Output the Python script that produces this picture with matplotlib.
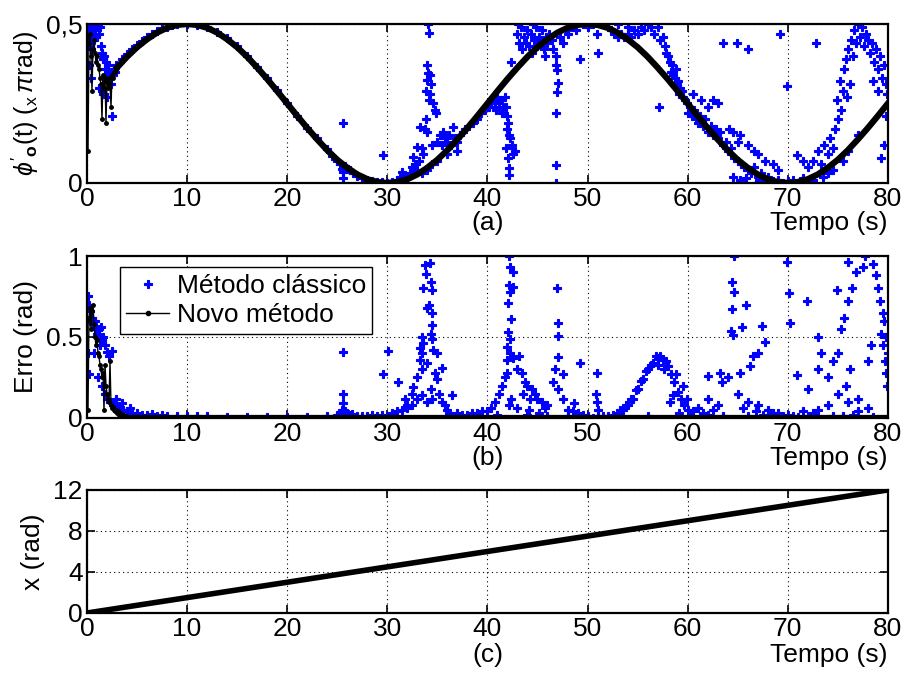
import matplotlib
matplotlib.use('Agg')
import matplotlib.pyplot as plt
import numpy as np

plt.rcParams['font.family'] = ['Liberation Sans', 'DejaVu Sans']
plt.rcParams['font.size'] = 19
plt.rcParams['mathtext.fontset'] = 'custom'
plt.rcParams['mathtext.rm'] = 'Liberation Sans'
plt.rcParams['mathtext.it'] = 'Liberation Sans:italic'
plt.rcParams['mathtext.bf'] = 'Liberation Sans:bold'

# ---- data ----
time_ticks = [0, 10, 20, 30, 40, 50, 60, 70, 80]

# (a) new method: noisy start, then the smooth reference curve (x pi rad)
novo_a_t0 = [0.0, 0.1, 0.2, 0.3, 0.4, 0.5, 0.6, 0.7, 0.8, 0.9, 1.0, 1.1, 1.2, 1.3, 1.4,
             1.5, 1.6, 1.7, 1.8, 1.9, 2.0, 2.1, 2.2, 2.3, 2.4, 2.5, 2.6, 2.7, 2.8, 2.9, 3.0]
novo_a_y0 = [0.46, 0.10, 0.44, 0.47, 0.40, 0.29, 0.42, 0.45, 0.41, 0.38, 0.40, 0.37, 0.36, 0.33, 0.31,
             0.20, 0.34, 0.30, 0.33, 0.19, 0.32, 0.30, 0.33, 0.31, 0.24, 0.34, 0.33, 0.35, 0.35, 0.36, 0.363]
novo_a_t = list(range(3, 81))
novo_a_y = [0.363, 0.397, 0.427, 0.452, 0.473, 0.488, 0.497, 0.500, 0.497, 0.488,
            0.473, 0.452, 0.427, 0.397, 0.363, 0.327, 0.289, 0.250, 0.211, 0.173,
            0.137, 0.103, 0.073, 0.048, 0.027, 0.012, 0.003, 0.000, 0.003, 0.012,
            0.027, 0.048, 0.073, 0.103, 0.137, 0.173, 0.211, 0.250, 0.289, 0.327,
            0.363, 0.397, 0.427, 0.452, 0.473, 0.488, 0.497, 0.500, 0.497, 0.488,
            0.473, 0.452, 0.427, 0.397, 0.363, 0.327, 0.289, 0.250, 0.211, 0.173,
            0.137, 0.103, 0.073, 0.048, 0.027, 0.012, 0.003, 0.000, 0.003, 0.012,
            0.027, 0.048, 0.073, 0.103, 0.137, 0.173, 0.211, 0.250]

# (a) classic method points (t, phase)
classic_a = [
    (0.05, 0.47), (0.1, 0.50), (0.15, 0.44), (0.2, 0.48), (0.3, 0.46), (0.35, 0.49), (0.4, 0.42),
    (0.5, 0.47), (0.6, 0.50), (0.7, 0.45), (0.8, 0.48), (0.9, 0.46), (1.0, 0.49), (1.1, 0.50),
    (1.2, 0.47), (1.3, 0.49), (1.4, 0.43), (1.5, 0.41), (1.6, 0.39), (1.7, 0.40), (1.8, 0.36),
    (1.9, 0.38), (2.0, 0.34), (2.1, 0.37), (2.2, 0.33), (2.3, 0.35), (2.4, 0.31), (2.5, 0.21),
    (2.6, 0.34), (2.7, 0.36), (2.8, 0.35), (2.9, 0.37), (0.2, 0.37), (0.4, 0.33), (1.2, 0.30),
    (1.6, 0.28), (2.0, 0.27),
    (3.5, 0.39), (4, 0.405), (4.5, 0.42), (5, 0.435), (5.5, 0.445), (6, 0.46), (6.5, 0.47),
    (7, 0.478), (7.5, 0.486), (8, 0.492), (8.5, 0.496), (9, 0.499), (10, 0.5), (11, 0.498),
    (12, 0.49), (13, 0.475), (14, 0.455), (15, 0.43), (16, 0.40), (17, 0.366), (18, 0.33),
    (19, 0.292), (20, 0.252), (21, 0.212), (22, 0.174), (23, 0.14), (24, 0.108),
    (24.5, 0.085), (25, 0.07), (25.3, 0.06), (25.5, 0.045), (25.6, 0.035), (25.6, 0.015),
    (25.6, 0.19), (25.8, 0.055), (26, 0.045), (26.3, 0.04), (26.6, 0.03), (27, 0.022),
    (27.5, 0.015), (28, 0.008), (28.5, 0.006), (29, 0.003), (29.5, 0.002), (29.6, 0.088),
    (30, 0.0), (30.5, 0.004), (31, 0.01), (31.0, 0.005), (31.3, 0.02), (31.5, 0.035),
    (31.7, 0.02), (32, 0.015), (32.3, 0.03), (32.5, 0.05), (32.6, 0.083), (32.8, 0.06),
    (33.0, 0.114), (33.0, 0.04), (33.2, 0.07), (33.3, 0.175), (33.5, 0.11), (33.6, 0.09),
    (33.8, 0.17), (33.9, 0.20), (33.9, 0.29), (34.0, 0.16), (34.0, 0.324), (34.0, 0.371),
    (34.1, 0.50), (34.2, 0.473), (34.2, 0.26), (34.1, 0.347), (34.3, 0.34), (34.3, 0.28),
    (34.4, 0.31), (34.6, 0.25), (34.8, 0.23), (34.9, 0.22), (34.5, 0.12), (35.0, 0.13),
    (35.3, 0.15), (35.5, 0.12), (35.6, 0.16), (35.8, 0.14), (36.0, 0.13), (36.2, 0.15),
    (36.6, 0.177), (36.4, 0.12), (36.8, 0.14), (37.0, 0.13), (37.3, 0.15), (37.6, 0.16),
    (37.0, 0.10), (36.0, 0.09), (35.0, 0.07), (34.5, 0.06), (34.0, 0.04), (33.5, 0.03),
    (37.8, 0.17), (38.2, 0.18), (38.6, 0.19), (39.0, 0.20), (39.4, 0.22), (39.8, 0.23),
    (40.2, 0.24), (40.4, 0.25), (40.6, 0.26), (40.8, 0.24), (41.0, 0.27), (41.2, 0.25),
    (41.4, 0.26), (41.6, 0.24), (41.8, 0.27), (40.9, 0.23), (41.5, 0.22), (41.9, 0.24),
    (42.0, 0.21), (42.1, 0.19), (42.0, 0.17), (42.2, 0.15), (42.3, 0.14), (41.9, 0.11),
    (42.8, 0.10), (42.1, 0.08), (42.2, 0.048), (42.2, 0.025), (42.4, 0.38), (42.5, 0.12),
    (42.6, 0.09),
    (43.0, 0.47), (43.2, 0.44), (43.4, 0.49), (43.5, 0.42), (43.7, 0.46), (43.9, 0.44),
    (44.0, 0.48), (44.2, 0.43), (44.4, 0.47), (44.5, 0.41), (44.7, 0.45), (44.9, 0.49),
    (45.0, 0.43), (45.2, 0.46), (45.4, 0.44), (45.5, 0.48), (45.7, 0.42), (45.9, 0.46),
    (46.0, 0.44), (46.2, 0.47), (46.4, 0.45), (43.1, 0.50), (44.6, 0.50), (45.8, 0.40),
    (46.5, 0.42), (46.8, 0.40), (46.8, 0.371), (46.9, 0.355), (47.0, 0.315), (46.9, 0.286),
    (46.8, 0.22), (46.8, 0.057), (46.8, 0.0), (47.2, 0.46), (47.5, 0.44), (47.8, 0.48),
    (48.0, 0.47), (48.4, 0.49), (48.8, 0.48), (49.2, 0.39), (49.5, 0.50), (50.0, 0.49),
    (50.5, 0.50), (50.9, 0.47), (51.0, 0.41),
    (51.5, 0.50), (52.0, 0.49), (52.3, 0.48), (52.6, 0.47), (53.0, 0.46), (53.3, 0.47),
    (53.6, 0.46), (54.0, 0.47), (54.3, 0.46), (54.6, 0.48), (55.0, 0.47), (55.3, 0.49),
    (55.6, 0.48), (56.0, 0.50), (56.3, 0.49), (56.6, 0.47), (57.0, 0.49), (57.2, 0.45),
    (57.5, 0.46), (57.7, 0.43), (57.8, 0.41), (58.0, 0.40), (58.2, 0.38), (58.4, 0.37),
    (58.5, 0.34), (58.7, 0.33), (58.9, 0.31), (59.0, 0.32), (59.2, 0.30), (59.4, 0.29),
    (59.5, 0.27), (59.7, 0.26), (59.9, 0.25), (58.3, 0.35), (58.8, 0.36), (59.1, 0.28),
    (57.1, 0.24), (54.0, 0.49), (53.0, 0.50),
    (60.0, 0.22), (60.2, 0.24), (60.4, 0.21), (60.6, 0.23), (60.8, 0.20), (61.0, 0.19),
    (61.2, 0.21), (61.5, 0.18), (61.7, 0.20), (62.0, 0.16), (62.3, 0.18), (62.5, 0.15),
    (62.8, 0.17), (63.0, 0.14), (63.2, 0.16), (63.5, 0.12), (63.8, 0.13), (64.0, 0.10),
    (64.3, 0.11), (64.6, 0.08), (65.0, 0.07), (65.3, 0.06), (65.6, 0.05), (66.0, 0.04),
    (66.3, 0.03), (66.6, 0.05), (67.0, 0.02), (67.3, 0.03), (67.6, 0.01), (68.0, 0.02),
    (68.5, 0.005), (69.0, 0.01), (69.5, 0.0), (70.0, 0.005), (70.5, 0.01), (71.0, 0.0),
    (71.5, 0.015), (72.0, 0.005), (64.5, 0.02), (65.2, 0.01), (65.8, 0.015), (66.8, 0.0),
    (62.5, 0.26), (63.0, 0.25), (63.5, 0.44), (64.9, 0.44), (66.0, 0.42), (64.1, 0.17),
    (64.5, 0.16), (65.2, 0.15), (65.0, 0.13), (66.0, 0.12), (66.6, 0.10), (67.0, 0.09),
    (67.7, 0.07), (68.5, 0.06), (69.0, 0.04), (69.2, 0.47), (69.9, 0.305), (72.8, 0.44),
    (60.5, 0.28), (61.3, 0.26), (62.0, 0.24),
    (70.9, 0.088), (71.5, 0.07), (72.0, 0.05), (72.5, 0.07), (73.0, 0.10), (73.3, 0.06),
    (73.6, 0.12), (74.0, 0.09), (74.2, 0.14), (74.5, 0.11), (74.7, 0.17), (74.9, 0.26),
    (75.0, 0.20), (75.2, 0.32), (75.3, 0.23), (75.5, 0.29), (75.6, 0.36), (75.8, 0.39),
    (75.9, 0.27), (76.0, 0.42), (76.2, 0.31), (76.3, 0.45), (76.5, 0.40), (76.6, 0.48),
    (76.8, 0.44), (77.0, 0.50), (77.2, 0.46), (77.4, 0.49), (77.6, 0.43), (77.8, 0.47),
    (78.0, 0.45), (78.2, 0.41), (78.4, 0.44), (78.6, 0.38), (78.8, 0.42), (79.0, 0.36),
    (79.2, 0.40), (79.4, 0.33), (79.6, 0.37), (79.8, 0.31), (79.9, 0.28), (78.5, 0.32),
    (79.0, 0.29), (79.6, 0.12), (79.3, 0.08), (79.8, 0.21), (77.0, 0.15), (76.0, 0.10),
    (75.5, 0.07), (73.5, 0.02), (74.5, 0.04), (74.0, 0.03), (72.5, 0.01),
]

# (b) error of the new method (rad)
novo_b_t0 = [0.0, 0.1, 0.2, 0.3, 0.4, 0.5, 0.6, 0.7, 0.8, 0.9, 1.0, 1.1, 1.2, 1.3, 1.4, 1.5,
             1.6, 1.7, 1.8, 1.9, 2.0, 2.1, 2.2, 2.3, 2.4, 2.5, 2.6, 2.7, 2.8, 2.9, 3.0, 3.1,
             3.2, 3.3, 3.4, 3.5, 3.6, 3.7, 3.8, 3.9, 4.0]
novo_b_y0 = [0.60, 0.05, 0.62, 0.68, 0.55, 0.66, 0.70, 0.58, 0.50, 0.45, 0.48, 0.40, 0.38,
             0.33, 0.30, 0.25, 0.28, 0.05, 0.33, 0.20, 0.15, 0.12, 0.10, 0.35, 0.08, 0.06,
             0.07, 0.05, 0.04, 0.05, 0.03, 0.04, 0.02, 0.03, 0.02, 0.02, 0.01, 0.02, 0.01,
             0.01, 0.0]
novo_b_t = [4.0, 80.0]
novo_b_y = [0.0, 0.0]

# (b) error of the classic method (t, rad)
classic_b = [
    (0.1, 0.75), (0.15, 0.40), (0.2, 0.70), (0.25, 0.27), (0.3, 0.66), (0.5, 0.62), (0.6, 0.58),
    (0.8, 0.60), (0.9, 0.55), (1.0, 0.52), (1.2, 0.55), (1.3, 0.45), (1.4, 0.56), (1.5, 0.48),
    (1.6, 0.50), (1.8, 0.45), (2.0, 0.41), (2.2, 0.38), (2.45, 0.415), (0.7, 0.40), (1.1, 0.25),
    (1.5, 0.20), (1.8, 0.15), (2.0, 0.12), (2.3, 0.10), (2.7, 0.08), (3.0, 0.07), (2.9, 0.12),
    (3.3, 0.06), (3.5, 0.09), (3.6, 0.05), (4.0, 0.04), (4.3, 0.06), (4.5, 0.03), (5.0, 0.03),
    (5.5, 0.02), (6.0, 0.02), (6.5, 0.025), (7.0, 0.015), (7.5, 0.02), (8.0, 0.01), (9.0, 0.015),
    (10, 0.01), (11, 0.01), (12, 0.012), (14, 0.005), (16, 0.005), (18, 0.004), (20, 0.005),
    (22, 0.006), (24, 0.01),
    (25.0, 0.02), (25.3, 0.03), (25.5, 0.05), (25.6, 0.41), (25.6, 0.15), (25.6, 0.09),
    (25.8, 0.04), (26.0, 0.03), (26.3, 0.02), (26.5, 0.025), (27, 0.01), (27.5, 0.015),
    (28, 0.01), (28.5, 0.02), (29, 0.015), (29.6, 0.27), (30.1, 0.415), (29.5, 0.02),
    (30.0, 0.01), (30.5, 0.03), (31.0, 0.04), (31.1, 0.22), (31.5, 0.05), (31.8, 0.12),
    (32.0, 0.06), (32.0, 0.08), (32.5, 0.08), (32.5, 0.15), (32.6, 0.19), (33.0, 0.12),
    (33.0, 0.25), (33.3, 0.36), (33.3, 0.43), (33.5, 0.14), (33.5, 0.30), (33.5, 0.40),
    (33.5, 0.50), (33.6, 0.46), (33.6, 0.80), (33.75, 0.944), (33.9, 0.89), (34.0, 0.34),
    (34.0, 0.68), (34.2, 0.70), (34.25, 0.957), (34.4, 0.84), (34.4, 0.18), (34.4, 0.52),
    (34.5, 0.79), (34.5, 0.65), (34.5, 0.574), (34.5, 0.49), (34.6, 0.42), (34.8, 0.28),
    (35.0, 0.40), (35.0, 0.24), (35.5, 0.31), (35.5, 0.10), (36.0, 0.05), (36.5, 0.14),
    (34.0, 0.10), (34.5, 0.12), (35.2, 0.15), (35.8, 0.08), (36.2, 0.03), (37, 0.03),
    (37.5, 0.02), (38, 0.02), (38.5, 0.03), (39, 0.03), (39.5, 0.04), (40, 0.04),
    (40.4, 0.06), (40.8, 0.10), (41.2, 0.15), (41.5, 0.20), (41.8, 0.25), (42.0, 0.28),
    (42.0, 0.36), (42.0, 0.44), (42.1, 0.53), (42.1, 0.71), (42.2, 0.82), (42.2, 1.0),
    (42.3, 0.93), (42.3, 0.78), (42.3, 0.49), (42.3, 0.40), (42.4, 0.61), (42.6, 0.90),
    (42.6, 0.81), (42.6, 0.37), (42.2, 0.08), (42.4, 0.12), (43.0, 0.30), (43.2, 0.38),
    (43.0, 0.06), (43.5, 0.28), (43.8, 0.22), (44.0, 0.20), (43.6, 0.15), (44.2, 0.05),
    (44.5, 0.18), (44.3, 0.12), (44.8, 0.15), (45.0, 0.12), (45.2, 0.03), (45.5, 0.10),
    (45.8, 0.06), (46.0, 0.08), (46.5, 0.22), (46.7, 0.30), (46.9, 0.80), (47.0, 0.586),
    (47.0, 0.506), (47.0, 0.376), (47.0, 0.18), (47.5, 0.27), (47.5, 0.12), (48.0, 0.05),
    (48.5, 0.04), (48.6, 0.09), (49.0, 0.03), (49.2, 0.34), (49.5, 0.02), (50.0, 0.01),
    (50.9, 0.28), (50.8, 0.15), (50.9, 0.10), (51.0, 0.05),
    (51, 0.01), (51.5, 0.01), (52, 0.015), (52.5, 0.02), (53, 0.03), (53.5, 0.05), (54, 0.08),
    (54.5, 0.12), (55, 0.18), (55.5, 0.24), (56, 0.30), (56.5, 0.34), (57, 0.37), (57.5, 0.36),
    (58, 0.32), (58.3, 0.27), (58.6, 0.22), (59, 0.16), (59.3, 0.12), (59.6, 0.08), (60, 0.05),
    (53.2, 0.05), (53.8, 0.08), (54.3, 0.12), (54.8, 0.17), (55.3, 0.23), (55.8, 0.29),
    (56.3, 0.33), (56.8, 0.38), (57.2, 0.38), (57.8, 0.35), (58.8, 0.27), (59.5, 0.20),
    (59.9, 0.12), (58.2, 0.10), (59.1, 0.03), (57.0, 0.33), (57.6, 0.30), (58.5, 0.14),
    (60.5, 0.04), (61, 0.06), (61.5, 0.03), (62.0, 0.26), (62, 0.12), (62.5, 0.05), (63, 0.08),
    (63.2, 0.28), (63.4, 0.22), (64.0, 0.25), (64.3, 0.54), (64.4, 0.67), (64.4, 0.84),
    (64.5, 0.51), (64.6, 1.0), (64.6, 0.78), (65.0, 0.15), (65.2, 0.28), (65.4, 0.56),
    (65.5, 0.06), (65.8, 0.70), (66.0, 0.10), (66.2, 0.32), (66.5, 0.38), (66.8, 0.04),
    (67.0, 0.40), (67.0, 0.08), (67.4, 0.57), (67.7, 0.47), (68, 0.05), (68.5, 0.03),
    (69, 0.03), (69.9, 0.96), (70, 0.02), (70.1, 0.77), (70.2, 0.586), (70.5, 0.01),
    (70.9, 0.265), (71.5, 0.04), (71.9, 0.72), (72.0, 0.18), (72.5, 0.03),
    (73.0, 0.50), (73.0, 0.05), (73.3, 0.40), (73.0, 0.30), (74, 0.25), (74, 0.08),
    (74.5, 0.35), (74.9, 0.79), (75, 0.40), (75, 0.15), (75.3, 0.55), (75.6, 0.62),
    (75.8, 0.20), (76.0, 0.965), (76, 0.72), (76, 0.10), (76.2, 0.30), (76.4, 0.80),
    (76.8, 0.90), (77, 0.12), (77.5, 0.93), (77.7, 1.0), (78.0, 0.35), (78.3, 0.45),
    (78.5, 0.95), (78.8, 0.88), (79.0, 0.80), (79.2, 0.72), (79.3, 0.52), (79.5, 0.65),
    (79.5, 0.45), (79.6, 0.60), (79.7, 0.35), (79.8, 0.50), (79.8, 0.28), (79.9, 0.20),
    (80, 0.40), (78, 0.06), (77, 0.04), (76.5, 0.02),
    (36.5, 0.01), (38, 0.005), (39, 0.01), (41, 0.02), (44, 0.02), (46, 0.01), (48, 0.01),
    (50.5, 0.0), (52, 0.0), (56, 0.01), (60.3, 0.01), (62, 0.02), (63.5, 0.01), (66, 0.015),
    (67.5, 0.02), (69.5, 0.01), (71, 0.005), (72, 0.01), (74.5, 0.015), (75.5, 0.01),
    (78.5, 0.005),
]

# (c) x (rad)
x_t = [0, 10, 20, 30, 40, 50, 60, 70, 80]
x_val = [0, 1.5, 3.0, 4.5, 6.0, 7.5, 9.0, 10.5, 12.0]

BLUE = '#0000ff'
MK = dict(marker='P', linestyle='none', color=BLUE, ms=5.5, mew=0.8, mec=BLUE)

fig = plt.figure(figsize=(9.06, 6.76), dpi=100)
ax_a = fig.add_axes([0.096, 0.7293, 0.884, 0.2352])
ax_b = fig.add_axes([0.096, 0.3817, 0.884, 0.2396])
ax_c = fig.add_axes([0.096, 0.0932, 0.884, 0.1820])


def style(ax, yticks, ylabels, tag, ypos):
    ax.set_xlim(0, 80)
    ax.set_xticks(time_ticks)
    ax.set_yticks(yticks)
    ax.set_yticklabels(ylabels)
    ax.set_ylim(yticks[0], yticks[-1])
    ax.grid(True, linestyle=(0, (1, 3)), color='k', linewidth=0.8)
    ax.tick_params(direction='in', length=6, width=1.2, top=True, right=True, pad=3)
    for s in ax.spines.values():
        s.set_linewidth(1.6)
    ax.text(0.5, ypos, tag, transform=ax.transAxes, ha='center', va='center')
    ax.text(1.0, ypos, 'Tempo (s)', transform=ax.transAxes, ha='right', va='center')


# (a)
ca = np.array(classic_a)
ax_a.plot(ca[:, 0], ca[:, 1], **MK)
ax_a.plot(novo_a_t0, novo_a_y0, '-', color='k', lw=1, marker='.', ms=5)
ax_a.plot(novo_a_t, novo_a_y, '-', color='k', lw=4.5, solid_joinstyle='round')
style(ax_a, [0, 0.5], ['0', '0,5'], '(a)', -0.25)
ax_a.set_ylabel(r"$\phi'_\mathbf{o}$(t) ($_{\mathregular{x}}\,\pi$rad)", fontsize=18, labelpad=4)

# (b)
cb = np.array(classic_b)
h1, = ax_b.plot(cb[:, 0], cb[:, 1], **MK)
ax_b.plot(novo_b_t0, novo_b_y0, '-', color='k', lw=1, marker='.', ms=5)
ax_b.plot(novo_b_t, novo_b_y, '-', color='k', lw=4.5)
h2, = ax_b.plot([], [], '-', color='k', lw=1, marker='.', ms=6)
style(ax_b, [0, 0.5, 1], ['0', '0.5', '1'], '(b)', -0.25)
ax_b.set_ylabel('Erro (rad)', labelpad=6)
leg = ax_b.legend([h1, h2], ['Método clássico', 'Novo método'], loc='upper left',
                  bbox_to_anchor=(0.041, 0.93), fancybox=False, framealpha=1,
                  edgecolor='k', borderpad=0.25, handlelength=1.6, handletextpad=0.3,
                  labelspacing=0.2, borderaxespad=0, fontsize=19, markerscale=1.0)
leg.get_frame().set_linewidth(1.0)

# (c)
ax_c.plot(x_t, x_val, '-', color='k', lw=4)
style(ax_c, [0, 4, 8, 12], ['0', '4', '8', '12'], '(c)', -0.34)
ax_c.set_ylabel('x (rad)', labelpad=6)

fig.savefig('out.png', dpi=100)
